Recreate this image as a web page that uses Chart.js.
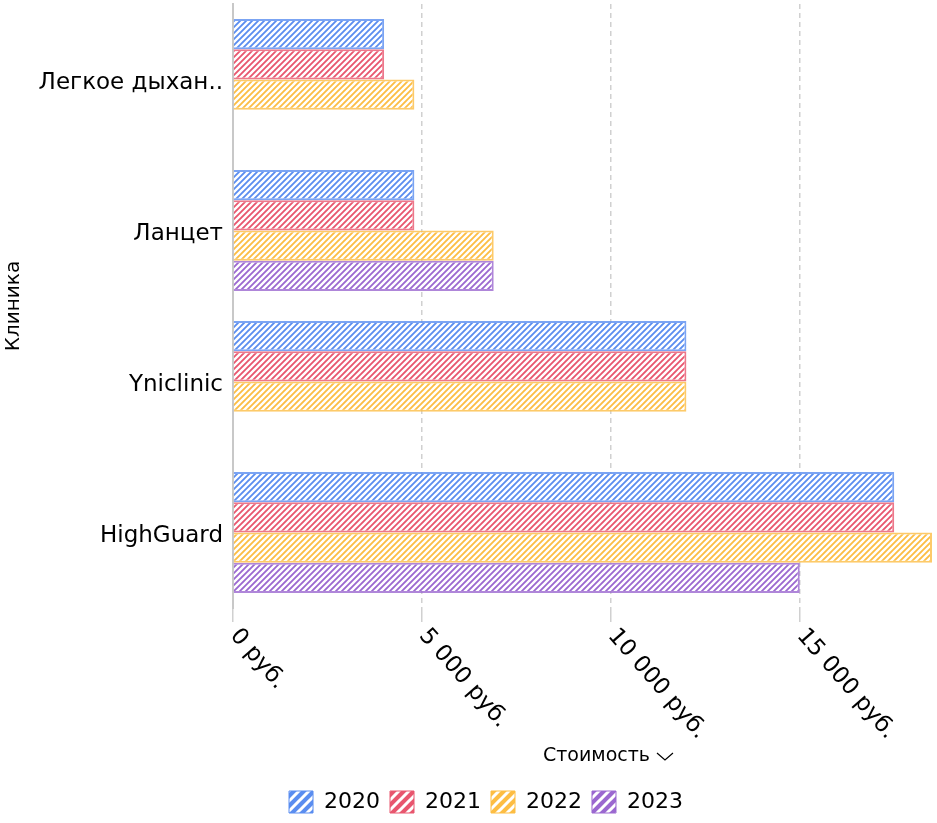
<!DOCTYPE html>
<html>
<head>
<meta charset="utf-8">
<script src="https://cdn.jsdelivr.net/npm/chart.js@4"></script>
<style>
  body { margin: 0; background: #fff; }
  #wrap { width: 937px; height: 823px; }
</style>
</head>
<body>
<div id="wrap"><canvas id="chart" width="937" height="823"></canvas></div>
<script>
const clinics = ["Легкое дыхан..", "Ланцет", "Yniclinic", "HighGuard"];
const years = ["2020", "2021", "2022", "2023"];
const cost2020 = [4000, 4800, 12000, 17500];
const cost2021 = [4000, 4800, 12000, 17500];
const cost2022 = [4800, 6900, 12000, 18500];
const cost2023 = [null, 6900, null, 15000];
const xTicks = [0, 5000, 10000, 15000];
const colors = ["#5a8df0", "#e8566e", "#fdbd43", "#9b68d0"];

const FONT = "'DejaVu Sans', sans-serif";

// diagonal white stripes on a coloured tile
function hatch(color, size, lw) {
  const c = document.createElement("canvas");
  c.width = size;
  c.height = size;
  const g = c.getContext("2d");
  g.fillStyle = color;
  g.fillRect(0, 0, size, size);
  g.strokeStyle = "#fff";
  g.lineWidth = lw;
  g.beginPath();
  g.moveTo(0, size);
  g.lineTo(size, 0);
  g.moveTo(-size / 2, size / 2);
  g.lineTo(size / 2, -size / 2);
  g.moveTo(size / 2, size * 1.5);
  g.lineTo(size * 1.5, size / 2);
  g.stroke();
  return g.createPattern(c, "repeat");
}

function fmt(v) {
  return String(v).replace(/\B(?=(\d{3})+(?!\d))/g, " ") + " руб.";
}

const series = [cost2020, cost2021, cost2022, cost2023];

// draws rotated x tick labels and the x axis title
const xLabels = {
  id: "xLabels",
  afterLayout(chart) {
    // legend sits a bit right of the canvas centre
    chart.legend.left += 20;
    chart.legend.right += 20;
  },
  afterDraw(chart) {
    const ctx = chart.ctx;
    const x = chart.scales.x;
    const area = chart.chartArea;
    ctx.save();
    ctx.fillStyle = "#000";
    ctx.font = "23px " + FONT;
    ctx.textAlign = "left";
    ctx.textBaseline = "middle";
    xTicks.forEach((v) => {
      ctx.save();
      ctx.translate(x.getPixelForValue(v) + 1, area.bottom + 24);
      ctx.rotate((49 * Math.PI) / 180);
      ctx.fillText(fmt(v), 0, 0);
      ctx.restore();
    });
    // axis title with chevron
    ctx.font = "19px " + FONT;
    const title = "Стоимость";
    const w = ctx.measureText(title).width;
    const cx = (area.left + area.right) / 2 + 26;
    const tx = cx - (w + 24) / 2;
    const ty = area.bottom + 148;
    ctx.fillText(title, tx, ty);
    ctx.strokeStyle = "#000";
    ctx.lineWidth = 1.2;
    ctx.beginPath();
    ctx.moveTo(tx + w + 7, ty - 3);
    ctx.lineTo(tx + w + 15, ty + 4);
    ctx.lineTo(tx + w + 23, ty - 3);
    ctx.stroke();
    ctx.restore();
  },
};

new Chart(document.getElementById("chart"), {
  type: "bar",
  data: {
    labels: clinics,
    datasets: years.map((y, i) => ({
      label: y,
      data: series[i],
      backgroundColor: hatch(colors[i], 6, 2.4),
      borderColor: colors[i] + "cc",
      borderWidth: 2,
      categoryPercentage: 0.8,
      barPercentage: 1,
    })),
  },
  options: {
    indexAxis: "y",
    responsive: false,
    animation: false,
    layout: { padding: { top: 4, right: 5, left: 0, bottom: 0 } },
    plugins: {
      tooltip: { enabled: false },
      legend: {
        position: "bottom",
        labels: {
          color: "#000",
          font: { family: FONT, size: 22 },
          boxWidth: 24,
          boxHeight: 22,
          padding: 10,
          generateLabels(chart) {
            return chart.data.datasets.map((ds, i) => ({
              text: ds.label,
              fillStyle: hatch(colors[i], 10, 3),
              strokeStyle: colors[i],
              lineWidth: 1,
              hidden: false,
              datasetIndex: i,
            }));
          },
        },
      },
    },
    scales: {
      x: {
        min: 0,
        max: 18500,
        afterBuildTicks(scale) {
          scale.ticks = xTicks.map((v) => ({ value: v }));
        },
        afterFit(scale) {
          scale.height = 173;
          scale.paddingLeft = 0;
          scale.paddingRight = 0;
        },
        ticks: { display: false },
        grid: {
          color: "#d0d0d0",
          lineWidth: 1.5,
          tickLength: 14,
        },
        border: { display: false, dash: [5, 4] },
      },
      y: {
        afterFit(scale) {
          scale.width = 233;
          scale.paddingTop = 0;
          scale.paddingBottom = 0;
        },
        ticks: {
          color: "#000",
          font: { family: FONT, size: 23 },
          padding: 10,
          labelOffset: 4,
        },
        grid: { display: false, drawTicks: false },
        border: { display: true, color: "#c8c8c8", width: 2 },
        title: {
          display: true,
          text: "Клиника",
          color: "#000",
          font: { family: FONT, size: 20 },
          padding: { top: 2, bottom: 0 },
        },
      },
    },
  },
  plugins: [xLabels],
});
</script>
</body>
</html>
